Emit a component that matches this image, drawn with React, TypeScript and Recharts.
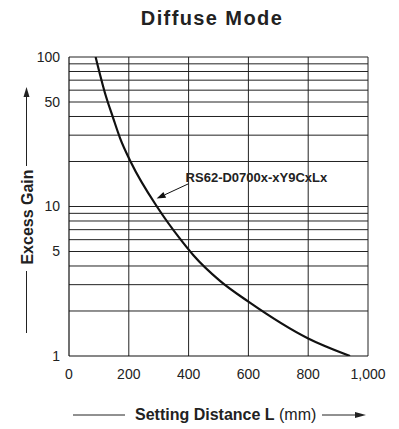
import React from "react";
import {
  LineChart,
  Line,
  XAxis,
  YAxis,
  ReferenceLine,
  ReferenceArea,
} from "recharts";

// curve (distance in mm, excess gain)
const distance = [89, 120, 148, 171, 207, 294, 371, 416, 505, 600, 800, 940];
const gain = [100, 57.7, 38.9, 28.6, 19.8, 10, 6.09, 4.72, 3.18, 2.31, 1.31, 1];

const xTicks = [0, 200, 400, 600, 800, 1000];
const yTicks = [1, 5, 10, 50, 100];
const gridY = [2, 3, 4, 5, 6, 7, 8, 9, 10, 20, 30, 40, 50, 60, 70, 80, 90, 100];
const gridX = [200, 400, 600, 800, 1000];

const modelName = "RS62-D0700x-xY9CxLx";

const data = distance.map((d, i) => ({ d, g: gain[i] }));

const FONT = "'Liberation Sans', Arial, sans-serif";
const GRID = "#222";

// pointer from the label to the curve
const ArrowShape = (props: any) => {
  const { x1, y1, x2, y2 } = props;
  const ang = Math.atan2(y2 - y1, x2 - x1);
  const len = 9;
  const w = 3.2;
  const bx = x2 - len * Math.cos(ang);
  const by = y2 - len * Math.sin(ang);
  const px = -Math.sin(ang) * w;
  const py = Math.cos(ang) * w;
  return (
    <g>
      <line x1={x1} y1={y1} x2={bx} y2={by} stroke="#111" strokeWidth={1} />
      <polygon
        points={`${x2},${y2} ${bx + px},${by + py} ${bx - px},${by - py}`}
        fill="#111"
      />
    </g>
  );
};

const xFmt = (v: number) => (v === 1000 ? "1,000" : String(v));

export default function App() {
  return (
    <div style={{ position: "absolute", left: 0, top: 0, width: 399, height: 429, background: "#fff" }}>
      <LineChart
        width={399}
        height={429}
        data={data}
        margin={{ top: 57, right: 31, bottom: 43, left: 29 }}
      >
        <XAxis
          dataKey="d"
          type="number"
          domain={[0, 1000]}
          ticks={xTicks}
          tickFormatter={xFmt}
          tickLine={false}
          tickMargin={7}
          axisLine={{ stroke: "#111", strokeWidth: 1.2 }}
          tick={{ fill: "#222", fontSize: 14, fontFamily: FONT }}
          height={30}
        />
        <YAxis
          type="number"
          scale="log"
          domain={[1, 100]}
          allowDataOverflow
          ticks={yTicks}
          tickLine={false}
          tickMargin={3}
          width={40}
          axisLine={{ stroke: "#111", strokeWidth: 1.2 }}
          tick={{ fill: "#222", fontSize: 14, fontFamily: FONT }}
        />
        {gridY.map((v) => (
          <ReferenceLine key={"y" + v} y={v} stroke={GRID} strokeWidth={1} />
        ))}
        {gridX.map((v) => (
          <ReferenceLine key={"x" + v} x={v} stroke={GRID} strokeWidth={1} />
        ))}
        <ReferenceArea
          x1={380}
          x2={995}
          y1={12.9}
          y2={19.3}
          fill="#fff"
          fillOpacity={1}
          stroke="none"
          label={{
            value: modelName,
            position: "insideLeft",
            offset: 3,
            fill: "#222",
            fontSize: 13,
            fontWeight: "bold",
            fontFamily: FONT,
          }}
        />
        <ReferenceLine
          segment={[
            { x: 400, y: 14.2 },
            { x: 293, y: 11.3 },
          ]}
          shape={ArrowShape}
        />
        <Line
          dataKey="g"
          type="monotone"
          stroke="#111"
          strokeWidth={2.2}
          dot={false}
          isAnimationActive={false}
        />
      </LineChart>
      <svg
        width={399}
        height={429}
        style={{ position: "absolute", left: 0, top: 0, pointerEvents: "none" }}
        fontFamily={FONT}
      >
        <text x={212} y={25} textAnchor="middle" fontSize={20} fontWeight="bold" fill="#222" letterSpacing={1.4}>
          Diffuse Mode
        </text>
        {/* y axis title with arrow */}
        <text
          x={0}
          y={0}
          transform="translate(32.5,217) rotate(-90)"
          textAnchor="middle"
          fontSize={16}
          fontWeight="bold"
          fill="#222"
        >
          Excess Gain
        </text>
        <line x1={26.5} y1={271} x2={26.5} y2={333} stroke="#222" strokeWidth={1} />
        <line x1={26.5} y1={166} x2={26.5} y2={96} stroke="#222" strokeWidth={1} />
        <polygon points="26.5,87 23.5,97 29.5,97" fill="#222" />
        {/* x axis title with arrow */}
        <line x1={73} y1={415} x2={125} y2={415} stroke="#222" strokeWidth={1} />
        <text x={135} y={420} fontSize={16} fill="#222">
          <tspan fontWeight="bold">Setting Distance L</tspan>
          <tspan> (mm)</tspan>
        </text>
        <line x1={322} y1={415} x2={356} y2={415} stroke="#222" strokeWidth={1} />
        <polygon points="366,415 355,412 355,418" fill="#222" />
      </svg>
    </div>
  );
}
